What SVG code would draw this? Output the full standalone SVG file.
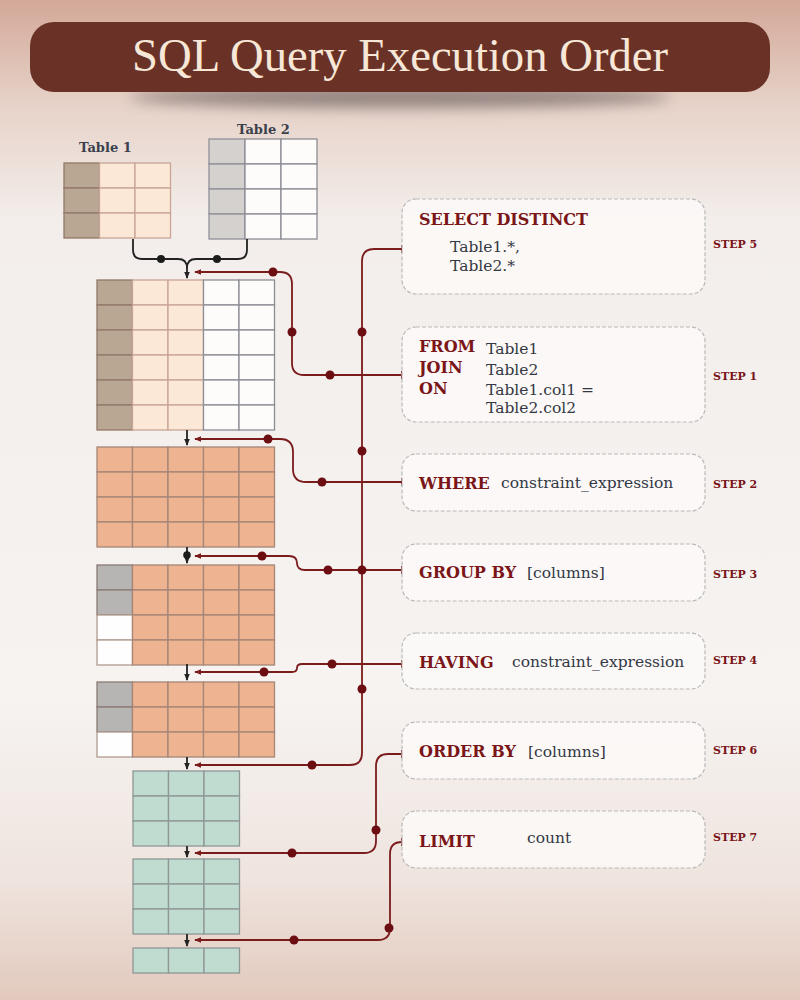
<svg xmlns="http://www.w3.org/2000/svg" width="800" height="1000" viewBox="0 0 800 1000">
<defs>
<linearGradient id="bg" x1="0" y1="0" x2="0" y2="1">
<stop offset="0" stop-color="#d3a898"/>
<stop offset="0.1" stop-color="#e6d1c7"/>
<stop offset="0.22" stop-color="#f3eeeb"/>
<stop offset="0.7" stop-color="#f6f3f1"/>
<stop offset="0.88" stop-color="#efe4de"/>
<stop offset="1" stop-color="#e2c9bd"/>
</linearGradient>
<filter id="blur" x="-20%" y="-200%" width="140%" height="500%"><feGaussianBlur stdDeviation="7"/></filter>
<marker id="ar" viewBox="0 0 8 8" refX="7" refY="4" markerWidth="7" markerHeight="7" markerUnits="userSpaceOnUse" orient="auto"><path d="M0 0.8 L8 4 L0 7.2 Z" fill="#7a1c1c"/></marker>
<marker id="ab" viewBox="0 0 8 8" refX="7" refY="4" markerWidth="7" markerHeight="7" markerUnits="userSpaceOnUse" orient="auto"><path d="M0 0.8 L8 4 L0 7.2 Z" fill="#222"/></marker>
<marker id="tk" viewBox="0 0 4 10" refX="2" refY="5" markerWidth="4" markerHeight="10" markerUnits="userSpaceOnUse" orient="auto"><path d="M2 1 V9" stroke="#7a1c1c" stroke-width="1.6"/></marker>
<g id="rowJ">
<rect x="97" y="0" width="35.5" height="25" class="br"/><rect x="132.5" y="0" width="35.5" height="25" class="pe"/><rect x="168" y="0" width="35.5" height="25" class="pe"/><rect x="203.5" y="0" width="35.5" height="25" class="wh"/><rect x="239" y="0" width="35.5" height="25" class="wh"/>
</g>
<g id="rowO">
<rect x="97" y="0" width="35.5" height="25" class="or"/><rect x="132.5" y="0" width="35.5" height="25" class="or"/><rect x="168" y="0" width="35.5" height="25" class="or"/><rect x="203.5" y="0" width="35.5" height="25" class="or"/><rect x="239" y="0" width="35.5" height="25" class="or"/>
</g>
<g id="rowGO">
<rect x="97" y="0" width="35.5" height="25" class="gr"/><rect x="132.5" y="0" width="35.5" height="25" class="or"/><rect x="168" y="0" width="35.5" height="25" class="or"/><rect x="203.5" y="0" width="35.5" height="25" class="or"/><rect x="239" y="0" width="35.5" height="25" class="or"/>
</g>
<g id="rowWO">
<rect x="97" y="0" width="35.5" height="25" class="wh2"/><rect x="132.5" y="0" width="35.5" height="25" class="or"/><rect x="168" y="0" width="35.5" height="25" class="or"/><rect x="203.5" y="0" width="35.5" height="25" class="or"/><rect x="239" y="0" width="35.5" height="25" class="or"/>
</g>
<g id="rowGn">
<rect x="133" y="0" width="35.5" height="25" class="gn"/><rect x="168.5" y="0" width="35.5" height="25" class="gn"/><rect x="204" y="0" width="35.5" height="25" class="gn"/>
</g>
<g id="rowT1">
<rect x="64" y="0" width="35.5" height="25" class="br"/><rect x="99.5" y="0" width="35.5" height="25" class="pe"/><rect x="135" y="0" width="35.5" height="25" class="pe"/>
</g>
<g id="rowT2">
<rect x="209" y="0" width="36" height="25" class="gr2"/><rect x="245" y="0" width="36" height="25" class="wh"/><rect x="281" y="0" width="36" height="25" class="wh"/>
</g>
</defs>
<style>
.br{fill:#b9a693;stroke:#927868;stroke-width:1.3}
.pe{fill:#fce8d6;stroke:#c8a595;stroke-width:1.3}
.wh{fill:#fdfcfb;stroke:#8c8c94;stroke-width:1.3}
.wh2{fill:#fefefe;stroke:#b09a90;stroke-width:1.3}
.gr{fill:#b7b5b4;stroke:#8a7a74;stroke-width:1.3}
.gr2{fill:#d4d1cf;stroke:#90909a;stroke-width:1.3}
.or{fill:#eeb390;stroke:#a58677;stroke-width:1.3}
.gn{fill:#c0dbd0;stroke:#8e9795;stroke-width:1.3}
.box{fill:#fbf9f8;fill-opacity:0.85;stroke:#b9b9b9;stroke-width:1.2;stroke-dasharray:4 2}
.kw{font-family:"DejaVu Serif",serif;font-weight:bold;fill:#7a1518;font-size:16px}
.tx{font-family:"DejaVu Serif",serif;fill:#333845;font-size:15.5px}
.st{font-family:"DejaVu Serif",serif;font-weight:bold;fill:#7a1518;font-size:11px}
.lb{font-family:"DejaVu Serif",serif;font-weight:bold;fill:#3a404c;font-size:13px}
.rl{fill:none;stroke:#7a1c1c;stroke-width:1.8}
.bl{fill:none;stroke:#222;stroke-width:1.8}
.rd{fill:#6c0d12}
.bd{fill:#1c1c1c}
</style>
<rect x="0" y="0" width="800" height="1000" fill="url(#bg)"/>
<ellipse cx="400" cy="97" rx="270" ry="11" fill="#5e5252" opacity="0.6" filter="url(#blur)"/>
<g id="title">
<rect x="30" y="22" width="740" height="70" rx="24" fill="#6a3227"/>
<text x="400" y="71" text-anchor="middle" font-family="Liberation Serif, serif" font-size="46" fill="#f7e7d7" textLength="536" lengthAdjust="spacingAndGlyphs">SQL Query Execution Order</text>
</g>
<g id="table1">
<text x="79" y="152" class="lb">Table 1</text>
<use href="#rowT1" y="163"/><use href="#rowT1" y="188"/><use href="#rowT1" y="213"/>
</g>
<g id="table2">
<text x="237" y="134" class="lb">Table 2</text>
<use href="#rowT2" y="139"/><use href="#rowT2" y="164"/><use href="#rowT2" y="189"/><use href="#rowT2" y="214"/>
</g>
<g id="joined">
<use href="#rowJ" y="280"/><use href="#rowJ" y="305"/><use href="#rowJ" y="330"/><use href="#rowJ" y="355"/><use href="#rowJ" y="380"/><use href="#rowJ" y="405"/>
</g>
<g id="where-result">
<use href="#rowO" y="447"/><use href="#rowO" y="472"/><use href="#rowO" y="497"/><use href="#rowO" y="522"/>
</g>
<g id="group-result">
<use href="#rowGO" y="565"/><use href="#rowGO" y="590"/><use href="#rowWO" y="615"/><use href="#rowWO" y="640"/>
</g>
<g id="having-result">
<use href="#rowGO" y="682"/><use href="#rowGO" y="707"/><use href="#rowWO" y="732"/>
</g>
<g id="select-result">
<use href="#rowGn" y="771"/><use href="#rowGn" y="796"/><use href="#rowGn" y="821"/>
</g>
<g id="order-result">
<use href="#rowGn" y="859"/><use href="#rowGn" y="884"/><use href="#rowGn" y="909"/>
</g>
<g id="limit-result">
<use href="#rowGn" y="948"/>
</g>
<g id="connectors">
<path class="bl" d="M133 239 V250 Q133 259 142 259 H178 Q187 259 187 268 V278" marker-end="url(#ab)"/>
<path class="bl" d="M247 239 V250 Q247 259 238 259 H196 Q187 259 187 268"/>
<circle class="bd" cx="161" cy="259" r="4"/><circle class="bd" cx="217" cy="259" r="4"/>
<path class="bl" d="M187 430 V445" marker-end="url(#ab)"/>
<path class="bl" d="M187 547 V563" marker-end="url(#ab)"/>
<circle class="bd" cx="187" cy="555" r="3.8"/>
<path class="bl" d="M187 664 V680" marker-end="url(#ab)"/>
<path class="bl" d="M187 757 V769" marker-end="url(#ab)"/>
<path class="bl" d="M187 846 V857" marker-end="url(#ab)"/>
<path class="bl" d="M187 934 V946" marker-end="url(#ab)"/>
<path class="rl" d="M402 249 H374 Q362 249 362 261 V753 Q362 765 350 765 H195" marker-start="url(#tk)" marker-end="url(#ar)"/>
<path class="rl" d="M402 375 H304 Q292 375 292 363 V284 Q292 272 280 272 H195" marker-start="url(#tk)" marker-end="url(#ar)"/>
<path class="rl" d="M402 482 H306 Q293 482 293 469 V452 Q293 439 280 439 H195" marker-start="url(#tk)" marker-end="url(#ar)"/>
<path class="rl" d="M402 570 H305 Q297 570 297 563 Q297 556 289 556 H195" marker-start="url(#tk)" marker-end="url(#ar)"/>
<path class="rl" d="M402 664 H302 Q297 664 297 668 Q297 672 292 672 H195" marker-start="url(#tk)" marker-end="url(#ar)"/>
<path class="rl" d="M402 754 H388 Q376 754 376 766 V841 Q376 853 364 853 H195" marker-start="url(#tk)" marker-end="url(#ar)"/>
<path class="rl" d="M402 842 Q390 842 390 854 V928 Q390 940 378 940 H195" marker-start="url(#tk)" marker-end="url(#ar)"/>
<circle class="rd" cx="362" cy="332" r="4.5"/><circle class="rd" cx="362" cy="451" r="4.5"/><circle class="rd" cx="362" cy="570" r="4.5"/><circle class="rd" cx="362" cy="689" r="4.5"/><circle class="rd" cx="312" cy="765" r="4.5"/>
<circle class="rd" cx="273" cy="272" r="4.5"/><circle class="rd" cx="292" cy="332" r="4.5"/><circle class="rd" cx="330" cy="375" r="4.5"/>
<circle class="rd" cx="268" cy="439" r="4.5"/><circle class="rd" cx="322" cy="482" r="4.5"/>
<circle class="rd" cx="262" cy="556" r="4.5"/><circle class="rd" cx="328" cy="570" r="4.5"/>
<circle class="rd" cx="332" cy="664" r="4.5"/><circle class="rd" cx="264" cy="672" r="4.5"/>
<circle class="rd" cx="376" cy="830" r="4.5"/><circle class="rd" cx="292" cy="853" r="4.5"/>
<circle class="rd" cx="389" cy="928" r="4.5"/><circle class="rd" cx="294" cy="940" r="4.5"/>
</g>
<g id="select">
<rect class="box" x="402" y="199" width="303" height="95" rx="14"/>
<text x="419" y="225" class="kw">SELECT DISTINCT</text>
<text x="450" y="252" class="tx">Table1.*,</text>
<text x="450" y="271" class="tx">Table2.*</text>
<text x="713" y="248" class="st">STEP 5</text>
</g>
<g id="from">
<rect class="box" x="402" y="327" width="303" height="95" rx="14"/>
<text x="419" y="352" class="kw">FROM</text>
<text x="419" y="373" class="kw">JOIN</text>
<text x="419" y="394" class="kw">ON</text>
<text x="486" y="354" class="tx">Table1</text>
<text x="486" y="375" class="tx">Table2</text>
<text x="486" y="395" class="tx">Table1.col1 =</text>
<text x="486" y="413" class="tx">Table2.col2</text>
<text x="713" y="380" class="st">STEP 1</text>
</g>
<g id="where">
<rect class="box" x="402" y="454" width="303" height="57" rx="14"/>
<text x="419" y="489" class="kw">WHERE</text>
<text x="501" y="488" class="tx">constraint_expression</text>
<text x="713" y="488" class="st">STEP 2</text>
</g>
<g id="groupby">
<rect class="box" x="402" y="544" width="303" height="57" rx="14"/>
<text x="419" y="578" class="kw">GROUP BY</text>
<text x="527" y="578" class="tx">[columns]</text>
<text x="713" y="578" class="st">STEP 3</text>
</g>
<g id="having">
<rect class="box" x="402" y="633" width="303" height="56" rx="14"/>
<text x="419" y="668" class="kw" font-size="18">HAVING</text>
<text x="512" y="667" class="tx">constraint_expression</text>
<text x="713" y="664" class="st">STEP 4</text>
</g>
<g id="orderby">
<rect class="box" x="402" y="722" width="303" height="57" rx="14"/>
<text x="419" y="757" class="kw">ORDER BY</text>
<text x="528" y="757" class="tx">[columns]</text>
<text x="713" y="754" class="st">STEP 6</text>
</g>
<g id="limit">
<rect class="box" x="402" y="811" width="303" height="57" rx="14"/>
<text x="419" y="847" class="kw" font-size="18">LIMIT</text>
<text x="527" y="843" class="tx">count</text>
<text x="713" y="841" class="st">STEP 7</text>
</g>
</svg>
